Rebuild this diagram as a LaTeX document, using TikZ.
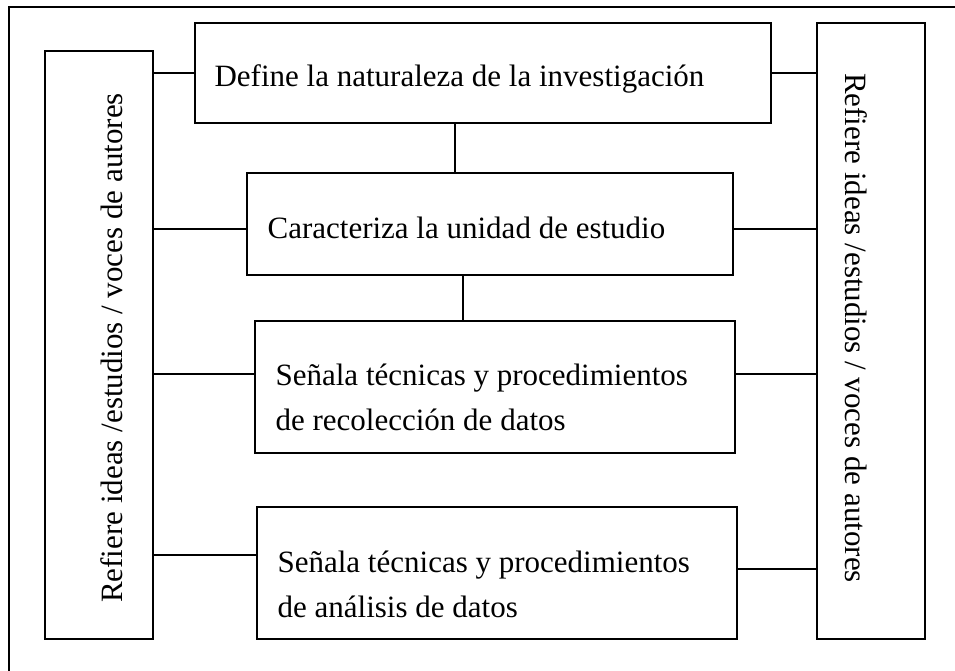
\documentclass[tikz,border=0pt]{standalone}
\usepackage{fontspec}
\setmainfont{Liberation Serif}
\begin{document}
\begin{tikzpicture}[x=1pt,y=1pt]
	\tikzstyle{every node}+=[inner sep=0pt, font=\fontsize{31}{45}\selectfont]
	\tikzstyle{box}=[draw=black, line width=1.2pt, rectangle]
	\tikzstyle{txt}=[align=left]
	\tikzstyle{wire}=[black, line width=1.2pt]
	\useasboundingbox (0,0) rectangle (955,-671);
	\draw [wire] (955,-7) -- (9,-7) -- (9,-671);
	\node [box, minimum width=108pt, minimum height=588pt] (lbox) at (99,-345) {};
	\node [rotate=90, anchor=base] (ltxt) at (122,-348) {Refiere ideas /estudios / voces de autores};
	\node [box, minimum width=108pt, minimum height=616pt] (rbox) at (871,-331) {};
	\node [rotate=-90, anchor=base] (rtxt) at (845,-328) {Refiere ideas /estudios / voces de autores};
	\node [box, minimum width=576pt, minimum height=100pt] (box1) at (483,-73) {};
	\node [txt, anchor=base west] (t1) at ([xshift=20pt,yshift=-14pt]box1.west) {Define la naturaleza de la investigación};
	\node [box, minimum width=486pt, minimum height=102pt] (box2) at (490,-224) {};
	\node [txt, anchor=base west] (t2) at ([xshift=21pt,yshift=-14pt]box2.west) {Caracteriza la unidad de estudio};
	\node [box, minimum width=480pt, minimum height=132pt] (box3) at (495,-387) {};
	\node [txt, anchor=north west] (t3) at ([xshift=21pt,yshift=23pt]box3.west) {Señala técnicas y procedimientos\\de recolección de datos};
	\node [box, minimum width=480pt, minimum height=132pt] (box4) at (497,-573) {};
	\node [txt, anchor=north west] (t4) at ([xshift=21pt,yshift=22pt]box4.west) {Señala técnicas y procedimientos\\de análisis de datos};
	\draw [wire] (lbox.east |- box1.west) -- (box1.west);
	\draw [wire] (box1.east) -- (rbox.west |- box1.east);
	\draw [wire] ([xshift=-28pt]box1.south) -- ([xshift=-28pt]box1.south |- box2.north);
	\draw [wire] ([yshift=-5pt]lbox.east |- box2.west) -- ([yshift=-5pt]box2.west);
	\draw [wire] ([yshift=-5pt]box2.east) -- ([yshift=-5pt]rbox.west |- box2.east);
	\draw [wire] ([xshift=-27pt]box2.south) -- ([xshift=-27pt]box2.south |- box3.north);
	\draw [wire] ([yshift=13pt]lbox.east |- box3.west) -- ([yshift=13pt]box3.west);
	\draw [wire] ([yshift=13pt]box3.east) -- ([yshift=13pt]rbox.west |- box3.east);
	\draw [wire] ([yshift=18pt]lbox.east |- box4.west) -- ([yshift=18pt]box4.west);
	\draw [wire] ([yshift=4pt]box4.east) -- ([yshift=4pt]rbox.west |- box4.east);
\end{tikzpicture}
\end{document}
